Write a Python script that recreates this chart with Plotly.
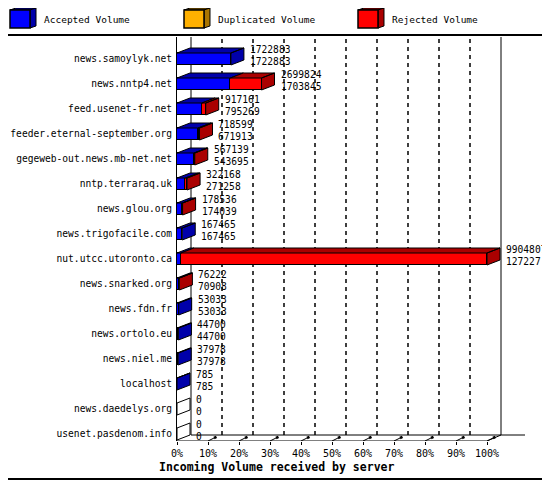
import plotly.graph_objects as go

servers = ["news.samoylyk.net", "news.nntp4.net", "feed.usenet-fr.net",
           "feeder.eternal-september.org", "gegeweb-out.news.mb-net.net",
           "nntp.terraraq.uk", "news.glou.org", "news.trigofacile.com",
           "nut.utcc.utoronto.ca", "news.snarked.org", "news.fdn.fr",
           "news.ortolo.eu", "news.niel.me", "localhost", "news.daedelys.org",
           "usenet.pasdenom.info"]
offered = [1722883, 2699824, 917161, 718599, 567139, 322168, 178536, 167465,
           9904807, 76222, 53033, 44700, 37978, 785, 0, 0]
accepted = [1722883, 1703845, 795269, 671913, 543695, 271258, 174039, 167465,
            127227, 70908, 53033, 44700, 37978, 785, 0, 0]
duplicated = [0, 0, 0, 0, 0, 0, 0, 0, 0, 0, 0, 0, 0, 0, 0, 0]
rejected = [o - a - d for o, a, d in zip(offered, accepted, duplicated)]
tick_pcts = [0, 10, 20, 30, 40, 50, 60, 70, 80, 90, 100]

series = [("Accepted Volume", accepted, "#0000FF", "#0000AA"),
          ("Duplicated Volume", duplicated, "#FFB000", "#AA7500"),
          ("Rejected Volume", rejected, "#FF0000", "#AA0000")]

FONT = "DejaVu Sans Mono"

# page geometry (the page body has an 8px margin, so the figure is shifted)
OFF = 8
PAGE_W, PAGE_H = 550, 480
W, H = PAGE_W - OFF, PAGE_H - OFF
L, R, T, B = 177, 530, 37, 441
PX_PER_PCT = 3.1
ROW_PX = 25
ROW0_PY = 59


def paper_x(px):
    return (px - L) / (R - L)


def paper_y(py):
    return (B - py) / (B - T)


def px2pct(px):
    return px / PX_PER_PCT


def py2row(py):
    return py / ROW_PX


# depth of the 3d effect
bar_dx, bar_dy = px2pct(13), py2row(5)
wall_dx, wall_dy = px2pct(14), py2row(6)
half = py2row(12) / 2

vmax = max(offered)
rows = list(range(len(servers)))
y_top = (T - ROW0_PY) / ROW_PX
y_bot = (B - ROW0_PY) / ROW_PX

fig = go.Figure()

# front faces
for name, vals, col, dark in series:
    fig.add_trace(go.Bar(
        x=[v / vmax * 100 for v in vals], y=rows, orientation="h",
        width=2 * half, marker=dict(color=col, line=dict(color="black", width=1)),
        name=name, showlegend=False, hoverinfo="skip"))

# top and side faces
faces = {}
for i in rows:
    base = 0.0
    last = None
    for name, vals, col, dark in series:
        w = vals[i] / vmax * 100
        if w > 0:
            x0, x1 = base, base + w
            yt = i - half
            faces.setdefault(dark, ([], []))
            xs, ys = faces[dark]
            xs += [x0, x1, x1 + bar_dx, x0 + bar_dx, x0, None]
            ys += [yt, yt, yt - bar_dy, yt - bar_dy, yt, None]
            base = x1
            last = dark
    side = last if last else "#FFFFFF"
    faces.setdefault(side, ([], []))
    xs, ys = faces[side]
    xs += [base, base, base + bar_dx, base + bar_dx, base, None]
    ys += [i + half, i - half, i - half - bar_dy, i + half - bar_dy, i + half, None]

for col, (xs, ys) in faces.items():
    fig.add_trace(go.Scatter(
        x=xs, y=ys, mode="lines", fill="toself", fillcolor=col,
        line=dict(color="black", width=1), showlegend=False, hoverinfo="skip"))

# value labels: offered on top, accepted below
for i in rows:
    e = offered[i] / vmax * 100
    fig.add_annotation(
        x=e + bar_dx + px2pct(4), y=i - py2row(3.5), xref="x", yref="y",
        text=f"{offered[i]}<br>{accepted[i]}", showarrow=False,
        xanchor="left", yanchor="middle", align="left",
        font=dict(family=FONT, size=9.6, color="black"))

shapes = []
back_floor = y_bot - wall_dy
# back wall grid lines
for t in tick_pcts[1:-1]:
    shapes.append(dict(type="line", xref="x", yref="y", layer="below",
                       x0=t + wall_dx, x1=t + wall_dx, y0=back_floor, y1=y_top,
                       line=dict(color="black", width=1.5, dash="4px,4px")))
for t in (0, 100):
    shapes.append(dict(type="line", xref="x", yref="y", layer="below",
                       x0=t + wall_dx, x1=t + wall_dx, y0=back_floor, y1=y_top,
                       line=dict(color="black", width=1)))
# floor
shapes.append(dict(type="line", xref="x", yref="y", x0=0, x1=100,
                   y0=y_bot, y1=y_bot, line=dict(color="black", width=1)))
shapes.append(dict(type="line", xref="x", yref="y", x0=100, x1=100 + wall_dx,
                   y0=y_bot, y1=back_floor, line=dict(color="black", width=1)))
shapes.append(dict(type="line", xref="x", yref="y", x0=wall_dx, x1=px2pct(348),
                   y0=back_floor, y1=back_floor, line=dict(color="black", width=1)))
# little 3d tick marks
for t in tick_pcts[1:]:
    shapes.append(dict(type="line", xref="x", yref="y", x0=t, x1=t + px2pct(8),
                       y0=y_bot, y1=y_bot - py2row(4),
                       line=dict(color="black", width=1)))
    shapes.append(dict(type="line", xref="x", yref="y", x0=t + px2pct(6),
                       x1=t + px2pct(8.5), y0=y_bot - py2row(3),
                       y1=y_bot - py2row(4.2), line=dict(color="black", width=2.5)))

# outer frame and legend separator
shapes.append(dict(type="rect", xref="paper", yref="paper",
                   x0=paper_x(1), x1=paper_x(549), y0=paper_y(479), y1=paper_y(1),
                   line=dict(color="black", width=2)))
shapes.append(dict(type="line", xref="paper", yref="paper",
                   x0=paper_x(0), x1=paper_x(550), y0=paper_y(35), y1=paper_y(35),
                   line=dict(color="black", width=2)))


def ppath(pts):
    return "M " + " L ".join(f"{paper_x(a):.5f},{paper_y(b):.5f}" for a, b in pts) + " Z"


# legend boxes
legend_x = [10, 184, 358]
for (name, vals, col, dark), lx in zip(series, legend_x):
    fx0, fx1, fy0, fy1 = lx, lx + 20, 10, 28
    shapes.append(dict(type="path", xref="paper", yref="paper", fillcolor=dark,
                       path=ppath([(fx0, fy0), (fx1, fy0), (fx1 + 6, fy0 - 2),
                                   (fx0 + 6, fy0 - 2)]),
                       line=dict(color="black", width=1)))
    shapes.append(dict(type="path", xref="paper", yref="paper", fillcolor=dark,
                       path=ppath([(fx1, fy1), (fx1, fy0), (fx1 + 6, fy0 - 2),
                                   (fx1 + 6, fy1 - 2)]),
                       line=dict(color="black", width=1)))
    shapes.append(dict(type="rect", xref="paper", yref="paper", fillcolor=col,
                       x0=paper_x(fx0), x1=paper_x(fx1), y0=paper_y(fy1), y1=paper_y(fy0),
                       line=dict(color="black", width=1.5)))
    fig.add_annotation(x=paper_x(lx + 32), y=paper_y(20), xref="paper", yref="paper",
                       text=name, showarrow=False, xanchor="left", yanchor="middle",
                       font=dict(family=FONT, size=9.5, color="black"))

fig.add_annotation(x=paper_x(157), y=paper_y(467), xref="paper", yref="paper",
                   text="<b>Incoming Volume received by server</b>", showarrow=False,
                   xanchor="left", yanchor="middle",
                   font=dict(family=FONT, size=11.5, color="black"))

fig.update_layout(
    width=W, height=H, barmode="stack", bargap=0,
    margin=dict(l=L - OFF, r=PAGE_W - R, t=T - OFF, b=PAGE_H - B, pad=0,
                autoexpand=False),
    paper_bgcolor="white", plot_bgcolor="white",
    font=dict(family=FONT, size=10, color="black"),
    shapes=shapes,
    xaxis=dict(range=[0, px2pct(R - L)], tickvals=tick_pcts,
               ticktext=[f"{t}%" for t in tick_pcts], showgrid=False,
               zeroline=False, showline=False, ticks="outside", ticklen=3,
               tickcolor="black", tickfont=dict(family=FONT, size=10),
               automargin=False),
    yaxis=dict(range=[y_bot, y_top], tickvals=rows, ticktext=servers,
               showgrid=False, zeroline=False, showline=True, linecolor="black",
               linewidth=1, ticks="", ticklabelstandoff=2, automargin=False,
               tickfont=dict(family=FONT, size=9.6)),
)

fig.write_html("out.html")
